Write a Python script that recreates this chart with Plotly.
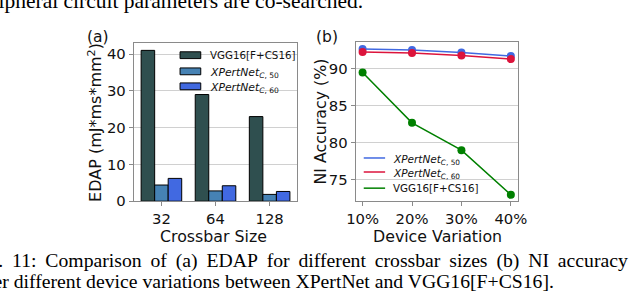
import plotly.graph_objects as go

W, H = 640, 301

# ---- data ----
crossbar_sizes = ["32", "64", "128"]
edap_vgg = [41.0, 29.0, 23.0]
edap_xp50 = [4.4, 2.8, 1.85]
edap_xp60 = [6.2, 4.2, 2.65]

variations = ["10%", "20%", "30%", "40%"]
acc_xp50 = [92.63, 92.5, 92.16, 91.7]
acc_xp60 = [92.24, 92.1, 91.76, 91.28]
acc_vgg = [89.47, 82.68, 78.99, 72.98]

name_vgg = "VGG16[F+CS16]"
name_xp50 = "<i>XPertNet</i><sub><i>C</i>, 50</sub>"
name_xp60 = "<i>XPertNet</i><sub><i>C</i>, 60</sub>"

C_VGG_BAR = "#2F4F4F"
C_XP50_BAR = "#4682B4"
C_XP60_BAR = "#4169E1"
C_BLUE = "#4169E1"
C_RED = "#DC143C"
C_GREEN = "#008000"

FONT = "DejaVu Sans"
SERIF = "Liberation Serif"
SPINE = "#8a8a8a"
GRID = "#d0d0d0"


def X(px):
    return px / W


def Y(py):
    return 1 - py / H


fig = go.Figure()

idx_a = list(range(len(crossbar_sizes)))
for vals, col in [(edap_vgg, C_VGG_BAR), (edap_xp50, C_XP50_BAR), (edap_xp60, C_XP60_BAR)]:
    fig.add_trace(go.Bar(x=idx_a, y=vals, marker=dict(color=col, line=dict(color="black", width=1)),
                         xaxis="x", yaxis="y", showlegend=False))

idx_b = list(range(len(variations)))
for vals, col in [(acc_xp50, C_BLUE), (acc_xp60, C_RED), (acc_vgg, C_GREEN)]:
    fig.add_trace(go.Scatter(x=idx_b, y=vals, mode="lines+markers",
                             line=dict(color=col, width=1.5), marker=dict(color=col, size=8),
                             xaxis="x2", yaxis="y2", showlegend=False))

axis_common = dict(showline=True, mirror=True, linecolor=SPINE, linewidth=1,
                   ticks="outside", ticklen=4, tickcolor=SPINE, tickwidth=1,
                   zeroline=False, tickfont=dict(family=FONT, size=14.8, color="#111"))

fig.update_layout(
    width=W, height=H, margin=dict(l=0, r=0, t=0, b=0),
    paper_bgcolor="white", plot_bgcolor="white",
    barmode="group", bargap=0.25, bargroupgap=0,
    showlegend=False,
    xaxis=dict(domain=[X(128.3), X(296.7)], range=[-0.5125, 2.5125], tickvals=idx_a,
               ticktext=crossbar_sizes, showgrid=False, anchor="y", **axis_common),
    yaxis=dict(domain=[Y(206.7), Y(44)], range=[0, 43.05], tickvals=[0, 10, 20, 30, 40],
               showgrid=True, gridcolor=GRID, gridwidth=1, anchor="x", **axis_common),
    xaxis2=dict(domain=[X(356.7), X(524)], range=[-0.14, 3.15], tickvals=idx_b,
                ticktext=variations, showgrid=False, anchor="y2", **axis_common),
    yaxis2=dict(domain=[Y(207), Y(43.3)], range=[72.07, 93.57], tickvals=[75, 80, 85, 90],
                showgrid=True, gridcolor=GRID, gridwidth=1, anchor="x2", **axis_common),
)

ann = []
shapes = []


def text(px, py, s, size, family=FONT, xanchor="center", yanchor="middle", angle=0, color="#111"):
    ann.append(dict(x=X(px), y=Y(py), xref="paper", yref="paper", text=s, showarrow=False,
                    xanchor=xanchor, yanchor=yanchor, textangle=angle,
                    font=dict(family=family, size=size, color=color)))


# axis titles and panel labels
text(210.3, 242.5, "Crossbar Size", 15.8)
text(440.5, 242.5, "Device Variation", 15.8)
text(88.3, 125.4, "EDAP (mJ*ms*mm<sup>2</sup>)", 16, angle=-90)
text(320.7, 125.2, "NI Accuracy (%)", 15.8, angle=-90)
text(92, 38, "(a)", 15.5)
text(327, 38, "(b)", 15.5)

# legend (a) - no frame
for i, (nm, col) in enumerate([(name_vgg, C_VGG_BAR), (name_xp50, C_XP50_BAR), (name_xp60, C_XP60_BAR)]):
    yy = [56.7, 73.3, 88.7][i]
    shapes.append(dict(type="rect", xref="paper", yref="paper", x0=X(176), x1=X(197.3),
                       y0=Y(yy + 3.5), y1=Y(yy - 3.5), fillcolor=col, line=dict(color="black", width=1)))
    text(205, yy + (0 if i == 0 else 2), nm, 10.3 if i == 0 else 10.8, xanchor="left")

# legend (b) - white box hiding the grid
shapes.append(dict(type="rect", xref="paper", yref="paper", x0=X(360), x1=X(481),
                   y0=Y(202), y1=Y(151), fillcolor="white", line=dict(width=0),
                   layer="between"))
for i, (nm, col) in enumerate([(name_xp50, C_BLUE), (name_xp60, C_RED), (name_vgg, C_GREEN)]):
    yy = [162.3, 176.7, 193.3][i]
    shapes.append(dict(type="line", xref="paper", yref="paper", x0=X(365), x1=X(387),
                       y0=Y(yy), y1=Y(yy), line=dict(color=col, width=1.5), layer="above"))
    text(393, yy + (2 if i < 2 else 0), nm, 10.3 if i == 2 else 10.5, xanchor="left")

# surrounding paper text (caption fragments)
TS = "\u2009 "  # slightly widened word gap (justified caption line)
text(366, 1.5, "peripheral circuit parameters are co-searched.", 21.5, family=SERIF,
     xanchor="right", color="black")
line1 = TS.join("Fig. 11: Comparison of (a) EDAP for different crossbar sizes (b) NI accuracy".split(" "))
text(639, 268, line1, 19.7, family=SERIF, xanchor="right", color="black")
text(563, 289, "under different device variations between XPertNet and VGG16[F+CS16].", 19.7,
     family=SERIF, xanchor="right", color="black")

fig.update_layout(annotations=ann, shapes=shapes)
fig.write_html("out.html", config={"displayModeBar": False},
               post_script="document.body.style.margin='0';document.body.style.overflow='hidden';")
